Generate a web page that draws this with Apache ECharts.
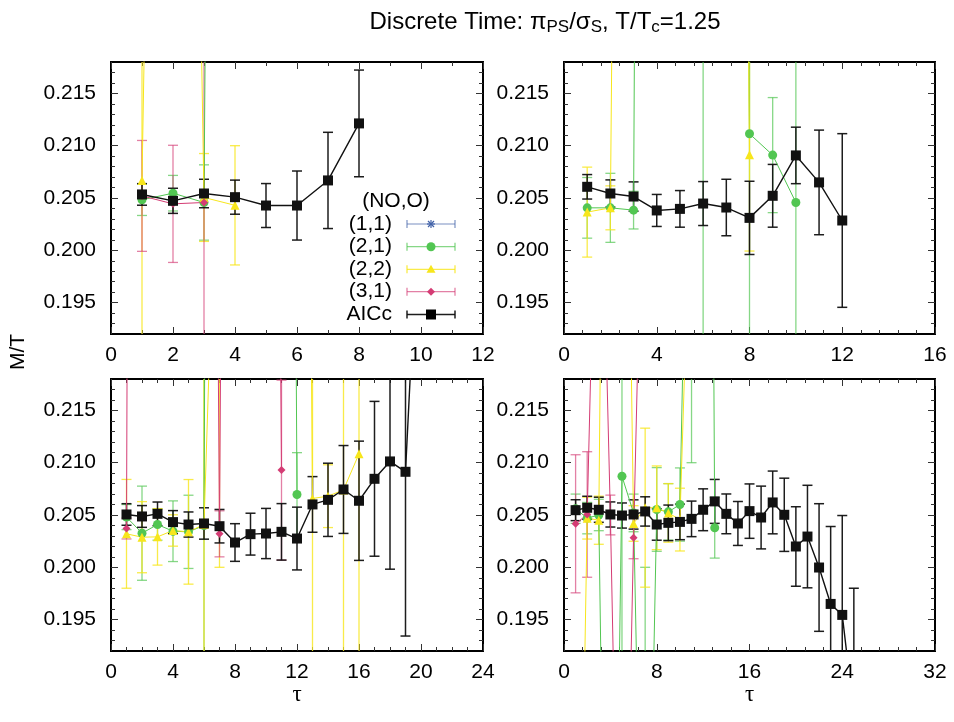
<!DOCTYPE html>
<html><head><meta charset="utf-8">
<script src="https://cdn.jsdelivr.net/npm/echarts@6/dist/echarts.min.js"></script>
<style>html,body{margin:0;padding:0;background:#fff}#c{width:954px;height:722px}</style>
</head><body><div id="c"></div>
<script>
// ---------------- DATA ----------------
// Top-left panel
const tlTauAIC=[1,2,3,4,5,6,7,8];
const tlAIC=[0.20534,0.20473,0.20543,0.20508,0.20428,0.20428,0.20668,0.21213];
const tlAICErr=[0.00103,0.0012,0.00136,0.00163,0.0021,0.0033,0.0046,0.0051];
const tlTau21=[1,2,3,4];
const tl21=[0.20483,0.20546,0.20457,0.60];
const tl21Err=[0.0015,0.0017,0.0036,0.05];
const tlTau22=[1,2,3,4];
const tl22=[0.20668,0.38,0.20505,0.2043];
const tl22Err=[0.05,0.05,0.0042,0.0057];
const tlTau31=[1,2,3];
const tl31=[0.2052,0.20444,0.20457];
const tl31Err=[0.0053,0.0056,0.05];
// Top-right panel
const trTauAIC=[1,2,3,4,5,6,7,8,9,10,11,12];
const trAIC=[0.20607,0.20543,0.20514,0.20381,0.20396,0.20447,0.20409,0.2031,0.20521,0.20907,0.20649,0.20285];
const trAICErr=[0.00117,0.0013,0.0014,0.00153,0.00175,0.0021,0.0027,0.0035,0.003,0.0027,0.005,0.0083];
const trTau21=[1,2,3,4,5,6,7,8,9,10];
const tr21=[0.20406,0.20406,0.20384,0.62,0.55,0.40,0.50,0.21114,0.2091,0.20457];
const tr21Err=[0.0029,0.0033,0.0018,0.05,0.05,0.3,0.05,0.03,0.0055,0.03];
const trTau22=[1,2,3,4,5,6,7,8];
const tr22=[0.20365,0.20406,0.45,0.38,0.52,0.41,0.47,0.20913];
const tr22Err=[0.0043,0.0021,0.05,0.05,0.05,0.05,0.05,0.0092];
// Bottom-left panel
const blTauAIC=[1,2,3,4,5,6,7,8,9,10,11,12,13,14,15,16,17,18,19,20];
const blAIC=[0.20505,0.20486,0.20511,0.20432,0.20409,0.20419,0.20393,0.20237,0.20317,0.20323,0.20339,0.20275,0.20601,0.20645,0.20744,0.20636,0.20846,0.21012,0.20913,0.239];
const blAICErr=[0.00103,0.00104,0.00113,0.0011,0.0012,0.0015,0.0016,0.0018,0.002,0.0024,0.0027,0.003,0.00266,0.0035,0.0042,0.0057,0.0074,0.0103,0.0157,0.02];
const blTau21=[1,2,3,4,5,6,7,8,9,10,11,12];
const bl21=[0.2048,0.20326,0.20409,0.20345,0.20339,0.2040,0.55,0.48,0.6,0.5,0.45,0.20696];
const bl21Err=[0.0012,0.0045,0.0015,0.0029,0.0035,0.05,0.05,0.05,0.05,0.05,0.05,0.004];
const blTau22=[1,2,3,4,5,6,7,8,9,10,11,12,13,14,15,16];
const bl22=[0.2032,0.20288,0.20291,0.20352,0.20339,0.2041,0.25,0.45,0.5,0.42,0.47,0.39,0.20658,0.2068,0.2074,0.21085];
const bl22Err=[0.0052,0.0034,0.0027,0.0015,0.005,0.05,0.05,0.05,0.05,0.05,0.05,0.05,0.05,0.003,0.05,0.05];
const blTau31=[1,2,3,4,5,6,7,8,9,10,11];
const bl31=[0.20371,0.62,0.5,0.38,0.46,0.41,0.2032,0.44,0.5,0.4,0.20929];
const bl31Err=[0.001,0.05,0.05,0.05,0.05,0.05,0.0022,0.05,0.05,0.05,0.0086];
// Bottom-right panel
const brTauAIC=[1,2,3,4,5,6,7,8,9,10,11,12,13,14,15,16,17,18,19,20,21,22,23,24,25];
const brAIC=[0.20546,0.20569,0.2055,0.20505,0.20495,0.20505,0.20534,0.20409,0.20425,0.20434,0.20463,0.2055,0.2063,0.20511,0.20419,0.20537,0.20476,0.2062,0.20502,0.20199,0.20294,0.19998,0.1965,0.19545,0.186];
const brAICErr=[0.001,0.0011,0.0012,0.0012,0.0012,0.0014,0.0014,0.0015,0.0017,0.0017,0.0017,0.002,0.0021,0.0019,0.0021,0.0026,0.003,0.003,0.0035,0.0038,0.0049,0.0061,0.0074,0.0095,0.012];
const brTau21=[1,2,3,4,5,6,7,8,9,10,11,12,13];
const br21=[0.2056,0.2047,0.2050,0.129,0.2087,0.2052,0.15,0.20553,0.2053,0.2060,0.26,0.40,0.20378];
const br21Err=[0.0014,0.0015,0.0015,0.05,0.05,0.0018,0.05,0.004,0.0027,0.0035,0.05,0.05,0.0029];
const brTau22=[1,2,3,4,5,6,7,8,9,10,11];
const br22=[0.14,0.2047,0.2045,0.32,0.28,0.20419,0.2057,0.20569,0.2052,0.20456,0.24];
const br22Err=[0.02,0.002,0.0023,0.05,0.05,0.0017,0.0076,0.004,0.0028,0.003,0.02];
const brTau31=[1,2,3,4,5,6,7];
const br31=[0.20416,0.20505,0.25,0.205,0.15,0.20282,0.25];
const br31Err=[0.0066,0.006,0.02,0.0019,0.02,0.002,0.02];
// (1,1) has no point inside the plotted ranges
const tau11=[]; const val11=[]; const err11=[];

// Axis ticks
const yMajorTicks=[0.195,0.200,0.205,0.210,0.215];
const yMinorTicks=[0.193,0.194,0.196,0.197,0.198,0.199,0.201,0.202,0.203,0.204,0.206,0.207,0.208,0.209,0.211,0.212,0.213,0.214,0.216,0.217];
const xMax=[12,16,24,32];
const xStep=[2,4,4,8];
const xMinorSplit=[2,5,4,5];
const legendNames=['(1,1)','(2,1)','(2,2)','(3,1)','AICc'];

// --------------- CHART ----------------
const FONT='"Liberation Sans", Arial, sans-serif';
const COL={b:'#4262a8',g:'#52c652',y:'#f7e61c',p:'#d43c74',k:'#000000'};
const grids=[
  {left:111,top:62,width:372,height:272},
  {left:564,top:62,width:371,height:272},
  {left:111,top:379,width:372,height:272},
  {left:564,top:379,width:371,height:272}
];
const panels=[
  {g11:[tau11,val11,err11],g21:[tlTau21,tl21,tl21Err],g22:[tlTau22,tl22,tl22Err],g31:[tlTau31,tl31,tl31Err],aic:[tlTauAIC,tlAIC,tlAICErr]},
  {g11:[tau11,val11,err11],g21:[trTau21,tr21,tr21Err],g22:[trTau22,tr22,tr22Err],g31:[[],[],[]],aic:[trTauAIC,trAIC,trAICErr]},
  {g11:[tau11,val11,err11],g21:[blTau21,bl21,bl21Err],g22:[blTau22,bl22,bl22Err],g31:[blTau31,bl31,bl31Err],aic:[blTauAIC,blAIC,blAICErr]},
  {g11:[tau11,val11,err11],g21:[brTau21,br21,br21Err],g22:[brTau22,br22,br22Err],g31:[brTau31,br31,br31Err],aic:[brTauAIC,brAIC,brAICErr]}
];
const groupStyle={
  g11:{color:COL.b,symbol:'path://M0,5L10,5M5,0L5,10M1.5,1.5L8.5,8.5M1.5,8.5L8.5,1.5',size:8,lw:1,ew:1.2,eop:0.7},
  g21:{color:COL.g,symbol:'circle',size:9,lw:1,ew:1.3,eop:0.7},
  g22:{color:COL.y,symbol:'triangle',size:9,lw:1,ew:1.3,eop:0.8},
  g31:{color:COL.p,symbol:'diamond',size:8,lw:1,ew:1.3,eop:0.65},
  aic:{color:'#111111',symbol:'rect',size:10,lw:1.4,ew:1.5,eop:0.95}
};

function makeErr(color,op,w){
  return function(params,api){
    const x=api.value(0),y=api.value(1),e=api.value(2);
    const cs=params.coordSys;
    const top=api.coord([x,y+e]),bot=api.coord([x,y-e]);
    const y0=cs.y,y1=cs.y+cs.height;
    const px=top[0];
    if(px<cs.x-1||px>cs.x+cs.width+1) return null;
    let a=Math.max(Math.min(top[1],bot[1]),y0), b=Math.min(Math.max(top[1],bot[1]),y1);
    if(a>=b) return null;
    const st={stroke:color,lineWidth:w,opacity:op};
    const ch=[{type:'line',shape:{x1:px,y1:a,x2:px,y2:b},style:st}];
    const hw=5;
    if(top[1]>=y0&&top[1]<=y1) ch.push({type:'line',shape:{x1:px-hw,y1:top[1],x2:px+hw,y2:top[1]},style:st});
    if(bot[1]>=y0&&bot[1]<=y1) ch.push({type:'line',shape:{x1:px-hw,y1:bot[1],x2:px+hw,y2:bot[1]},style:st});
    return {type:'group',children:ch};
  };
}

const xAxes=[],yAxes=[],series=[];
const tickCol='#333';
grids.forEach((g,i)=>{
  const xb={gridIndex:i,type:'value',min:0,max:xMax[i],interval:xStep[i],
    axisLine:{show:false},splitLine:{show:false},
    axisTick:{inside:true,length:7,lineStyle:{color:tickCol,width:1}},
    minorTick:{show:true,splitNumber:xMinorSplit[i],length:4,lineStyle:{color:tickCol,width:1}},
    axisLabel:{fontSize:21,color:'#000',fontFamily:FONT,margin:11}};
  const xBottom=Object.assign({},xb,{position:'bottom'});
  if(i>=2){ Object.assign(xBottom,{name:'τ',nameLocation:'middle',nameGap:29,nameTextStyle:{fontSize:23,fontFamily:'"Liberation Serif", serif',color:'#000'}}); }
  xAxes.push(xBottom);
  xAxes.push(Object.assign({},xb,{position:'top',axisLabel:{show:false}}));
  const yb={gridIndex:i,type:'value',min:0.192,max:0.218,axisLine:{show:false},splitLine:{show:false}};
  yAxes.push(Object.assign({},yb,{position:'left',
    axisTick:{inside:true,length:7,customValues:yMajorTicks,lineStyle:{color:tickCol}},
    axisLabel:{customValues:yMajorTicks,formatter:v=>Number(v).toFixed(3),fontSize:21,color:'#000',fontFamily:FONT,margin:15}}));
  yAxes.push(Object.assign({},yb,{position:'left',
    axisTick:{inside:true,length:4,customValues:yMinorTicks,lineStyle:{color:tickCol}},axisLabel:{show:false}}));
  yAxes.push(Object.assign({},yb,{position:'right',
    axisTick:{inside:true,length:7,customValues:yMajorTicks,lineStyle:{color:tickCol}},axisLabel:{show:false}}));
  yAxes.push(Object.assign({},yb,{position:'right',
    axisTick:{inside:true,length:4,customValues:yMinorTicks,lineStyle:{color:tickCol}},axisLabel:{show:false}}));
  const p=panels[i];
  ['g11','g21','g22','g31','aic'].forEach((k,gi)=>{
    const [tau,val,err]=p[k]; const s=groupStyle[k];
    series.push({type:'custom',name:legendNames[gi]+' err',xAxisIndex:2*i,yAxisIndex:4*i,clip:true,silent:true,
      renderItem:makeErr(s.color,s.eop,s.ew),data:tau.map((t,j)=>[t,val[j],err[j]]),z:2});
    series.push({type:'line',name:legendNames[gi],xAxisIndex:2*i,yAxisIndex:4*i,clip:true,
      data:tau.map((t,j)=>[t,val[j]]),symbol:s.symbol,symbolSize:s.size,showSymbol:true,
      itemStyle:{color:s.color},lineStyle:{color:s.color,width:s.lw},z:3});
  });
});

// legend drawn with graphic (top-left panel)
const legY=[224,246.7,269.3,291.7,314.5];
const legend=[];
legend.push({type:'text',style:{text:'(NO,O)',x:396,y:201.5,textAlign:'center',textVerticalAlign:'middle',font:'21px '+FONT,fill:'#000'}});
const gk=['g11','g21','g22','g31','aic'];
legY.forEach((y,i)=>{
  const s=groupStyle[gk[i]];
  legend.push({type:'text',style:{text:legendNames[i],x:392,y:y,textAlign:'right',textVerticalAlign:'middle',font:'21px '+FONT,fill:'#000'}});
  const st={stroke:s.color,lineWidth:s.ew,opacity:s.eop};
  legend.push({type:'line',shape:{x1:407,y1:y,x2:455,y2:y},style:st});
  legend.push({type:'line',shape:{x1:407,y1:y-4,x2:407,y2:y+4},style:st});
  legend.push({type:'line',shape:{x1:455,y1:y-4,x2:455,y2:y+4},style:st});
  const cx=431;
  if(gk[i]==='g11'){
    const ls={stroke:s.color,lineWidth:1.2};
    legend.push({type:'line',shape:{x1:cx-4,y1:y,x2:cx+4,y2:y},style:ls});
    legend.push({type:'line',shape:{x1:cx,y1:y-4,x2:cx,y2:y+4},style:ls});
    legend.push({type:'line',shape:{x1:cx-3,y1:y-3,x2:cx+3,y2:y+3},style:ls});
    legend.push({type:'line',shape:{x1:cx-3,y1:y+3,x2:cx+3,y2:y-3},style:ls});
  } else if(gk[i]==='g21'){
    legend.push({type:'circle',shape:{cx:cx,cy:y,r:4.5},style:{fill:s.color}});
  } else if(gk[i]==='g22'){
    legend.push({type:'polygon',shape:{points:[[cx,y-4.5],[cx+4.5,y+3.5],[cx-4.5,y+3.5]]},style:{fill:s.color}});
  } else if(gk[i]==='g31'){
    legend.push({type:'polygon',shape:{points:[[cx,y-4],[cx+4,y],[cx,y+4],[cx-4,y]]},style:{fill:s.color}});
  } else {
    legend.push({type:'rect',shape:{x:cx-5,y:y-5,width:10,height:10},style:{fill:'#000'}});
  }
});
legend.push({type:'text',rotation:Math.PI/2,x:18,y:352,style:{text:'M/T',x:0,y:0,textAlign:'center',textVerticalAlign:'middle',font:'21px '+FONT,fill:'#000'}});

const chart=echarts.init(document.getElementById('c'),null,{renderer:'canvas'});
chart.setOption({
  animation:false,
  backgroundColor:'#fff',
  title:{text:'Discrete Time: π{s|PS}/σ{s|S}, T/T{s|c}=1.25',left:540,top:3,textAlign:'center',
    textStyle:{fontSize:24,fontWeight:'normal',color:'#000',fontFamily:FONT,
      rich:{s:{fontSize:17,fontFamily:FONT,color:'#000',padding:[11,0,0,0]}}}},
  grid:grids.map(g=>Object.assign({show:true,borderColor:'#000',borderWidth:2,backgroundColor:'transparent'},g)),
  xAxis:xAxes,yAxis:yAxes,series:series,
  graphic:legend
});
</script></body></html>
